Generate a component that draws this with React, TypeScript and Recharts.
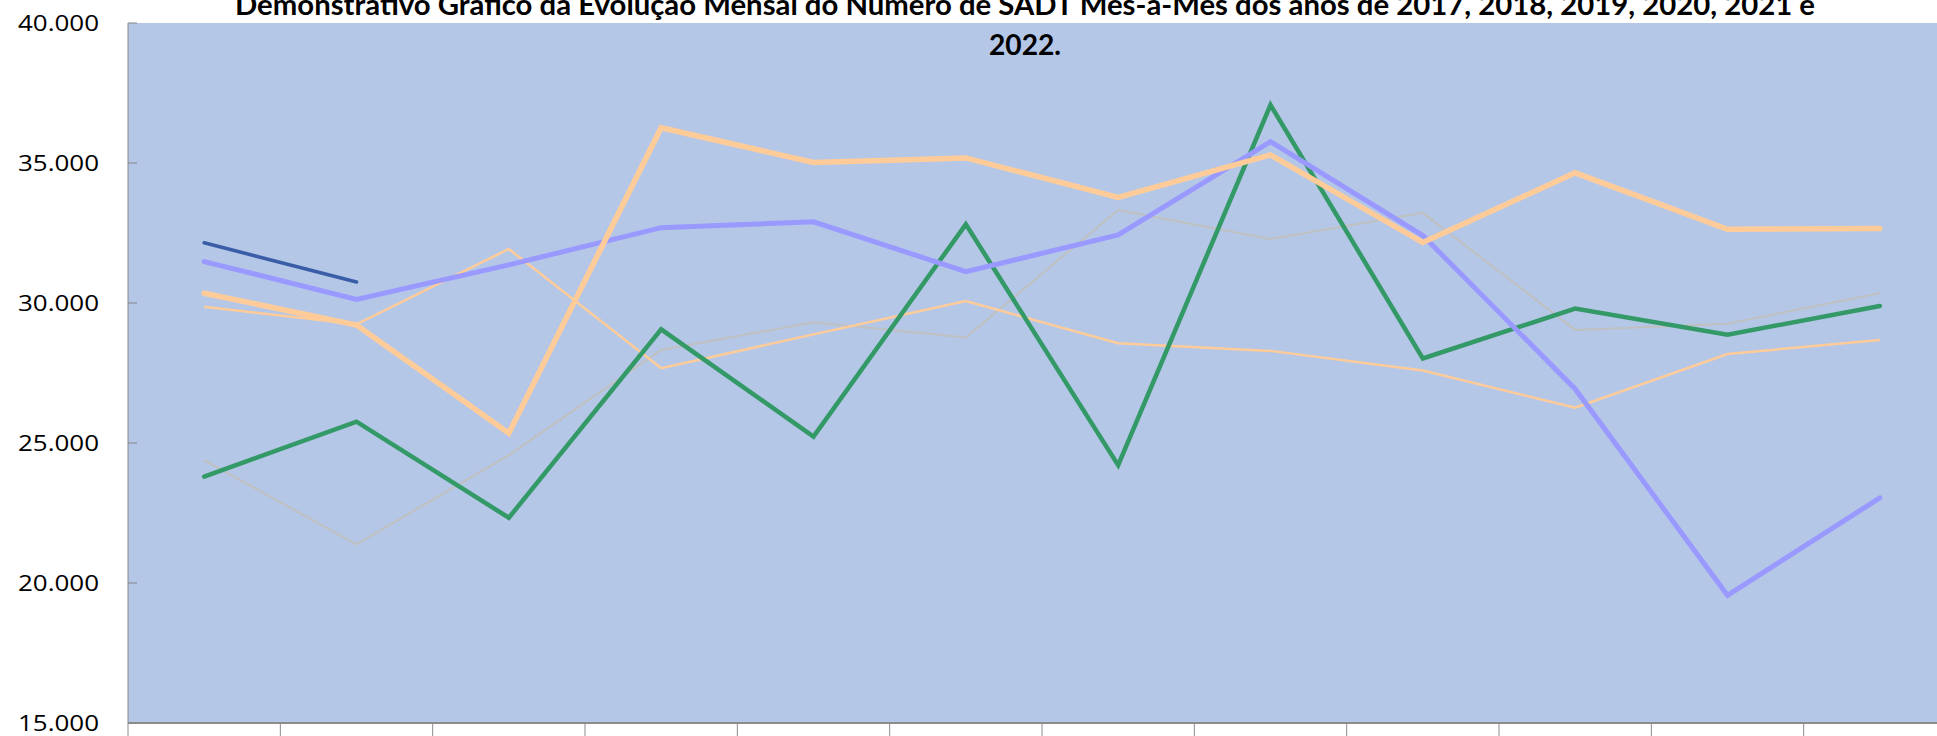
import React from 'react';
import { LineChart, Line, XAxis, YAxis, CartesianGrid } from 'recharts';

// valores (nº de SADT por mês)
const MONTHS = ['jan', 'fev', 'mar', 'abr', 'mai', 'jun', 'jul', 'ago', 'set', 'out', 'nov', 'dez'];
const Y_TICKS = [15000, 20000, 25000, 30000, 35000, 40000];

const SADT_2017 = [24390, 21380, 24570, 28320, 29310, 28770, 33320, 32290, 33220, 29040, 29260, 30350];
const SADT_2018 = [29870, 29240, 31930, 27670, 28880, 30070, 28560, 28290, 27590, 26260, 28180, 28680];
const SADT_2019 = [23800, 25760, 22330, 29060, 25230, 32810, 24210, 37070, 28020, 29800, 28870, 29890];
const SADT_2020 = [30350, 29210, 25350, 36260, 35020, 35180, 33770, 35290, 32160, 34650, 32630, 32660];
const SADT_2021 = [31480, 30130, 31360, 32690, 32900, 31120, 32430, 35760, 32410, 26930, 19560, 23040];
const SADT_2022 = [32150, 30750];

const TITLE_1 = 'Demonstrativo Gráfico da Evolução Mensal do Número de SADT Mês-a-Mês dos anos de 2017, 2018, 2019, 2020, 2021 e';
const TITLE_2 = '2022.';

const data = MONTHS.map((mes, i) => ({
  mes,
  a2017: SADT_2017[i],
  a2018: SADT_2018[i],
  a2019: SADT_2019[i],
  a2020: SADT_2020[i],
  a2021: SADT_2021[i],
  a2022: SADT_2022[i],
}));

const W = 1956;
const H = 780;
const LEFT = 128;
const HALF_BAND = (W - LEFT) / MONTHS.length / 2;

const fmt = (v: number) => String(v).replace(/\B(?=(\d{3})+(?!\d))/g, '.');

const YTick = (props: any) => {
  const { x, y, payload } = props;
  return (
    <g>
      <line x1={x} x2={x + 9} y1={y} y2={y} stroke="#868686" />
      <text
        x={x - 29}
        y={y}
        dy="0.36em"
        textAnchor="end"
        fontFamily="Open Sans"
        fontSize={22}
        fill="#000"
        textLength={81}
        lengthAdjust="spacingAndGlyphs"
      >
        {fmt(payload.value)}
      </text>
    </g>
  );
};

// marcas entre as categorias (estilo Excel); os rótulos dos meses ficam fora da área visível
const XTick = (props: any) => {
  const { x, y, index } = props;
  return (
    <g>
      <line x1={x - HALF_BAND} x2={x - HALF_BAND} y1={y} y2={y + 14} stroke="#8c8c8c" />
      {index === MONTHS.length - 1 && (
        <line x1={x + HALF_BAND} x2={x + HALF_BAND} y1={y} y2={y + 14} stroke="#8c8c8c" />
      )}
    </g>
  );
};

const App: React.FC = () => {
  return (
    <div
      style={{
        position: 'absolute',
        left: 0,
        top: 0,
        width: 1937,
        height: 736,
        overflow: 'hidden',
        background: '#fff',
      }}
    >
      <LineChart width={W} height={H} data={data} margin={{ top: 23, right: 0, bottom: 0, left: 0 }}>
        <CartesianGrid fill="#b4c7e7" horizontal={false} vertical={false} />
        <XAxis
          dataKey="mes"
          interval={0}
          padding={{ left: HALF_BAND, right: HALF_BAND }}
          axisLine={{ stroke: '#8c8c8c', strokeWidth: 2 }}
          tickLine={false}
          tickSize={0}
          tickMargin={0}
          tick={<XTick />}
          height={H - 23 - 700}
        />
        <YAxis
          domain={[15000, 40000]}
          ticks={Y_TICKS}
          width={LEFT}
          allowDataOverflow
          axisLine={{ stroke: '#868686' }}
          tickLine={false}
          tickSize={0}
          tickMargin={0}
          tick={<YTick />}
        />
        <Line dataKey="a2017" stroke="#c0c0c0" strokeWidth={2} dot={false} activeDot={false} isAnimationActive={false} />
        <Line dataKey="a2018" stroke="#ffcc99" strokeWidth={2.5} dot={false} activeDot={false} isAnimationActive={false} />
        <Line dataKey="a2019" stroke="#339966" strokeWidth={4.5} strokeLinecap="round" dot={false} activeDot={false} isAnimationActive={false} />
        <Line dataKey="a2021" stroke="#9999ff" strokeWidth={5} strokeLinecap="round" dot={false} activeDot={false} isAnimationActive={false} />
        <Line dataKey="a2020" stroke="#ffcc99" strokeWidth={5.5} strokeLinecap="round" dot={false} activeDot={false} isAnimationActive={false} />
        <Line dataKey="a2022" stroke="#3a5da8" strokeWidth={3.5} strokeLinecap="round" dot={false} activeDot={false} isAnimationActive={false} />
      </LineChart>

      {/* título cortado no topo, como no original */}
      <svg
        width={1937}
        height={80}
        style={{ position: 'absolute', left: 0, top: 0, pointerEvents: 'none' }}
      >
        <text
          x={1025}
          y={15}
          textAnchor="middle"
          fontFamily="Lato"
          fontWeight="bold"
          fontSize={29}
          fill="#000"
          textLength={1580}
          lengthAdjust="spacingAndGlyphs"
        >
          {TITLE_1}
        </text>
        <text
          x={1025}
          y={55}
          textAnchor="middle"
          fontFamily="Lato"
          fontWeight="bold"
          fontSize={29}
          fill="#000"
          textLength={72}
          lengthAdjust="spacingAndGlyphs"
        >
          {TITLE_2}
        </text>
      </svg>
    </div>
  );
};

export default App;
